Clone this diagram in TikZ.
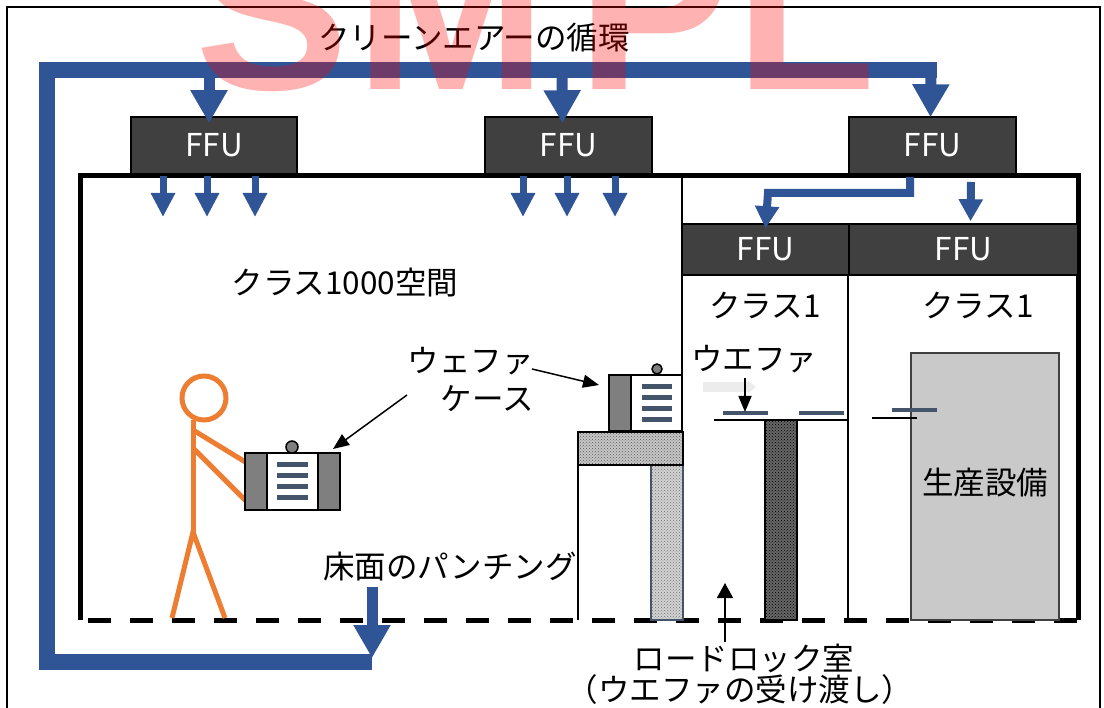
\documentclass[tikz,border=0pt]{standalone}
\usepackage{fontspec}
\newfontfamily\jp{Noto Sans CJK JP}
\newfontfamily\wmfont{Liberation Sans}
\usetikzlibrary{arrows.meta,patterns}
\definecolor{ductblue}{HTML}{2F5597}
\definecolor{ffugray}{HTML}{404040}
\definecolor{bodyorange}{HTML}{ED7D31}
\definecolor{slotblue}{HTML}{44546A}
\definecolor{casegray}{HTML}{7F7F7F}
\definecolor{toolgray}{HTML}{C9C9C9}
\begin{document}
\begin{tikzpicture}[x=1pt,y=-1pt,
  font=\jp\fontsize{31.5pt}{38pt}\selectfont,
  duct/.style={draw=ductblue,line width=16pt,line join=miter},
  feed/.style={draw=ductblue,line width=11pt,-{Triangle[width=35pt,length=33pt]}},
  blow/.style={draw=ductblue,line width=7pt,-{Triangle[width=23pt,length=24pt]}},
  ffu/.style={draw=black,line width=1.5pt,fill=ffugray,text=white,inner sep=0pt},
  wall/.style={line width=5pt,line join=miter},
  partition/.style={line width=1.5pt},
  callout/.style={line width=1.5pt,-{Triangle[width=13pt,length=16pt]}},
  casebox/.style={draw=black,line width=1.5pt},
  slot/.style={draw=slotblue,line width=5pt},
  person/.style={draw=bodyorange,line width=5pt},
  wm/.style={font=\wmfont\bfseries\fontsize{230pt}{230pt}\selectfont,text=red,text opacity=0.3,inner sep=0pt,anchor=base west}]
\useasboundingbox (0,0) rectangle (1104,708);
\clip (0,0) rectangle (1104,708);
\draw[line width=1.5pt] (7,7) rectangle (1100,720);

% return duct
\draw[duct] (372,662) -- (47,662) -- (47,70) -- (937,70);

% building shell
\draw[wall] (80,620) -- (80,176) -- (1078,176) -- (1078,620);
\draw[line width=5pt,dash pattern=on 23pt off 19pt] (88,620) -- (1078,620);
\draw[partition] (682,176) -- (682,375);
\draw[partition] (578,465) -- (578,620);
\draw[partition] (848,275) -- (848,620);

% fan filter units
\node[ffu,minimum width=166pt,minimum height=57pt] (ffuA) at (214,145.5) {FFU};
\node[ffu,minimum width=167pt,minimum height=57pt] (ffuB) at (568.5,145.5) {FFU};
\node[ffu,minimum width=167pt,minimum height=57pt] (ffuC) at (932.5,145.5) {FFU};
\node[ffu,minimum width=167pt,minimum height=51pt] (ffuD) at (765.5,249.5) {FFU};
\node[ffu,minimum width=229pt,minimum height=51pt] (ffuE) at (963.5,249.5) {FFU};

\draw[feed] (209,70) -- ([xshift=-5pt,yshift=-7pt]ffuA.north);
\draw[feed] (562,70) -- ([xshift=-6pt,yshift=-7pt]ffuB.north);
\draw[feed] (931,70) -- ([xshift=-2pt,yshift=-1pt]ffuC.north);
\draw[feed] (372,587) -- (372,658);

\foreach \x in {163,207,255,523,567,615}
  \draw[blow] (\x,176) -- (\x,217);
\draw[draw=ductblue,line width=8pt,line join=miter,-{Triangle[width=23pt,length=22pt]}]
  (910,177) -- (910,193) -- (768,193) -- ([yshift=-5pt]ffuD.north);
\draw[draw=ductblue,line width=8pt,-{Triangle[width=23pt,length=22pt]}]
  (971,182) -- ([xshift=7pt,yshift=2pt]ffuE.north);

% operator
\draw[person] (204,398) circle (22pt);
\draw[person] (193,420) -- (193,532);
\draw[person] (193,430) -- (247,463);
\draw[person] (193,448) -- (247,502);
\draw[person] (172,618) -- (193,532) -- (225,618);

% carried wafer case
\draw[casebox,fill=casegray] (292,447) circle (6pt);
\draw[casebox,fill=casegray] (245,453) rectangle (267,510);
\draw[casebox,fill=white] (267,453) rectangle (318,510);
\draw[casebox,fill=casegray] (318,453) rectangle (340,510);
\foreach \y in {465,476,487,498}
  \draw[slot] (277,\y) -- (308,\y);
\coordinate (caseA) at (333,449);

% table with wafer case
\draw[line width=1.5pt,draw=slotblue,preaction={fill=gray!35},pattern=crosshatch dots,pattern color=black!55]
  (651,465) rectangle (683,620);
\draw[line width=1.5pt,preaction={fill=gray!45},pattern=crosshatch dots,pattern color=black!65]
  (578,432) rectangle (683,465);
\draw[casebox,fill=casegray] (657,369) circle (5pt);
\draw[casebox,fill=casegray] (609,375) rectangle (631,431);
\draw[casebox,fill=white] (631,375) rectangle (682,431);
\foreach \y in {387,398,409,420}
  \draw[slot] (642,\y) -- (672,\y);
\coordinate (caseB) at (599,385);

% load lock stage
\draw[line width=10pt,draw=gray!15,-{Triangle[width=12pt,length=8pt]}] (703,387) -- (756,387);
\draw[line width=1.5pt,preaction={fill=black!60},pattern=crosshatch dots,pattern color=black]
  (765,420) rectangle (797,620);
\draw[partition] (714,420) -- (848,420);
\draw[slotblue,line width=4pt] (723,413) -- (768,413);
\draw[slotblue,line width=4pt] (799,413) -- (844,413);

% production tool
\draw[draw=ffugray,line width=1.5pt,fill=toolgray] (911,353) rectangle (1059,620);
\draw[partition] (872,418) -- (917,418);
\draw[slotblue,line width=4pt] (892,410) -- (937,410);

% labels
\node (air) at (474,38) {クリーンエアーの循環};
\node (room) at (345,283) {クラス1000空間};
\node (classA) at (765,305) {クラス1};
\node (classB) at (978,305) {クラス1};
\node[align=right,anchor=east,inner sep=0pt] (caselbl) at (534,379) {ウェファ\\ケース};
\node (wafer) at (754,359) {ウエファ};
\node (tool) at (985,483) {生産設備};
\node (punch) at (450,567) {床面のパンチング};
\node (lock) at (744,658) {ロードロック室};
\node (handover) at (740,690) {（ウエファの受け渡し）};

\draw[callout] (407,395) -- (caseA);
\draw[callout] (532,369) -- (caseB);
\draw[callout] (745,378) -- (745,412);
\draw[callout,-{Triangle[width=16pt,length=15pt]}] (725,642) -- (725,583);

% sample stamp
\node[wm] (wmS) at (195,90) {S};
\node[wm] (wmM) at (355,90) {M};
\node[wm] (wmP) at (577,90) {P};
\node[wm] (wmL) at (735,90) {L};
\end{tikzpicture}
\end{document}
